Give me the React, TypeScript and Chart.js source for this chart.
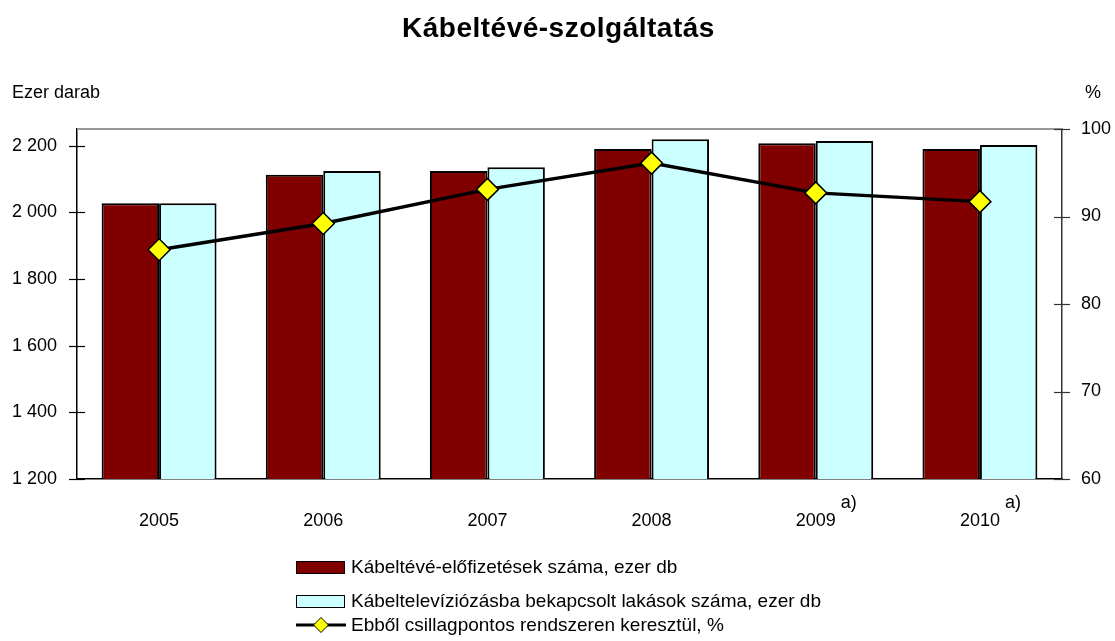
import React, { useEffect, useRef } from "react";
import { Chart, registerables } from "chart.js";

Chart.register(...registerables);

const categories = ["2005", "2006", "2007", "2008", "2009", "2010"];
const footnotes = ["", "", "", "", "a)", "a)"];
const subscriptions = [2027, 2113, 2124, 2190, 2207, 2190];
const connectedHomes = [2027, 2124, 2135, 2219, 2214, 2202];
const starPercent = [86.2, 89.2, 93.1, 96.1, 92.7, 91.7];
const leftTicks = [1200, 1400, 1600, 1800, 2000, 2200];
const rightTicks = [60, 70, 80, 90, 100];

const seriesNames = [
  "Kábeltévé-előfizetések száma, ezer db",
  "Kábeltelevíziózásba bekapcsolt lakások száma, ezer db",
  "Ebből csillagpontos rendszeren keresztül, %",
];

const FONT = "'Liberation Sans', Arial, sans-serif";

const fmt = (v: number) => {
  const s = String(Math.round(v));
  return s.replace(/\B(?=(\d{3})+(?!\d))/g, " ");
};

const decorPlugin = {
  id: "decor",
  afterDraw(chart: any) {
    const { ctx, chartArea, scales } = chart;
    ctx.save();
    // top border
    ctx.strokeStyle = "#999999";
    ctx.lineWidth = 2;
    ctx.beginPath();
    ctx.moveTo(chartArea.left, chartArea.top);
    ctx.lineTo(chartArea.right, chartArea.top);
    ctx.stroke();
    // crossing tick marks
    ctx.lineWidth = 1.2;
    ctx.strokeStyle = "#000000";
    leftTicks.forEach((v) => {
      const y = Math.round(scales.y.getPixelForValue(v)) + 0.5;
      ctx.beginPath();
      ctx.moveTo(chartArea.left - 8, y);
      ctx.lineTo(chartArea.left + 8, y);
      ctx.stroke();
    });
    ctx.strokeStyle = "#333333";
    rightTicks.forEach((v) => {
      const y = Math.round(scales.y1.getPixelForValue(v)) + 0.5;
      ctx.beginPath();
      ctx.moveTo(chartArea.right - 8, y);
      ctx.lineTo(chartArea.right + 8, y);
      ctx.stroke();
    });
    // footnote marks
    ctx.fillStyle = "#000000";
    ctx.font = `18px ${FONT}`;
    ctx.textAlign = "left";
    ctx.textBaseline = "middle";
    footnotes.forEach((f, i) => {
      if (!f) return;
      const x = scales.x.getPixelForValue(i);
      ctx.fillText(f, x + 25, 503);
    });
    ctx.restore();
  },
};

export default function App() {
  const ref = useRef<HTMLCanvasElement | null>(null);

  useEffect(() => {
    if (!ref.current) return;
    Chart.defaults.font.family = FONT;
    Chart.defaults.font.size = 18;
    Chart.defaults.color = "#000000";
    const chart = new Chart(ref.current, {
      type: "bar",
      data: {
        labels: categories,
        datasets: [
          {
            type: "line",
            label: seriesNames[2],
            data: starPercent,
            yAxisID: "y1",
            borderColor: "#000000",
            borderWidth: 3.5,
            pointStyle: "rectRot",
            pointRadius: 11,
            pointBackgroundColor: "#FFFF00",
            pointBorderColor: "#000000",
            pointBorderWidth: 1.5,
            tension: 0,
            order: 0,
          } as any,
          {
            type: "bar",
            label: seriesNames[0],
            data: subscriptions,
            yAxisID: "y",
            backgroundColor: "#800000",
            borderColor: "#000000",
            borderWidth: 2,
            categoryPercentage: 0.7,
            barPercentage: 1.0,
            order: 1,
          },
          {
            type: "bar",
            label: seriesNames[1],
            data: connectedHomes,
            yAxisID: "y",
            backgroundColor: "#CCFFFF",
            borderColor: "#000000",
            borderWidth: 2,
            categoryPercentage: 0.7,
            barPercentage: 1.0,
            order: 2,
          },
        ],
      },
      options: {
        animation: false,
        responsive: false,
        maintainAspectRatio: false,
        layout: { padding: { top: 129, bottom: 102, left: 0, right: 0 } },
        plugins: {
          legend: { display: false },
          title: { display: false },
          tooltip: { enabled: false },
        },
        scales: {
          x: {
            grid: { display: false, drawTicks: false },
            border: { display: true, color: "#000000", width: 1.5 },
            ticks: { padding: 31, font: { size: 18 }, color: "#000000" },
            afterFit: (s: any) => {
              s.height = 60;
            },
          },
          y: {
            position: "left",
            min: 1200,
            max: 2250,
            grid: { display: false, drawTicks: false },
            border: { display: true, color: "#000000", width: 1.5 },
            ticks: {
              padding: 20,
              font: { size: 18 },
              color: "#000000",
              callback: (v: any) => fmt(Number(v)),
            },
            afterBuildTicks: (s: any) => {
              s.ticks = leftTicks.map((v) => ({ value: v }));
            },
            afterFit: (s: any) => {
              s.width = 77;
            },
          },
          y1: {
            position: "right",
            min: 60,
            max: 100,
            grid: { display: false, drawTicks: false },
            border: { display: true, color: "#333333", width: 1.5 },
            ticks: { padding: 19, font: { size: 18 }, color: "#000000" },
            afterBuildTicks: (s: any) => {
              s.ticks = rightTicks.map((v) => ({ value: v }));
            },
            afterFit: (s: any) => {
              s.width = 53;
            },
          },
        },
      },
      plugins: [decorPlugin],
    });
    return () => chart.destroy();
  }, []);

  const legendText: React.CSSProperties = {
    position: "absolute",
    left: 351,
    fontFamily: FONT,
    fontSize: 19,
    color: "#000",
    lineHeight: "20px",
    whiteSpace: "nowrap",
  };

  return (
    <div
      style={{
        position: "absolute",
        left: 0,
        top: 0,
        width: 1115,
        height: 641,
        background: "#ffffff",
        overflow: "hidden",
      }}
    >
      <canvas ref={ref} width={1115} height={641} style={{ position: "absolute", left: 0, top: 0 }} />
      <div
        style={{
          position: "absolute",
          left: 402,
          top: 10,
          fontFamily: FONT,
          fontWeight: "bold",
          fontSize: 28,
          letterSpacing: "0.5px",
          lineHeight: "36px",
          color: "#000",
          whiteSpace: "nowrap",
        }}
      >
        Kábeltévé-szolgáltatás
      </div>
      <div style={{ position: "absolute", left: 12, top: 80, fontFamily: FONT, fontSize: 18, lineHeight: "24px" }}>
        Ezer darab
      </div>
      <div style={{ position: "absolute", left: 1085, top: 80, fontFamily: FONT, fontSize: 18, lineHeight: "24px" }}>
        %
      </div>
      <div
        style={{
          position: "absolute",
          left: 296,
          top: 561,
          width: 47,
          height: 11,
          background: "#800000",
          border: "1.5px solid #000",
        }}
      />
      <div style={{ ...legendText, top: 557 }}>{seriesNames[0]}</div>
      <div
        style={{
          position: "absolute",
          left: 296,
          top: 595,
          width: 47,
          height: 11,
          background: "#CCFFFF",
          border: "1.5px solid #000",
        }}
      />
      <div style={{ ...legendText, top: 591 }}>{seriesNames[1]}</div>
      <svg style={{ position: "absolute", left: 296, top: 615 }} width={52} height={20}>
        <line x1={0} y1={10} x2={50} y2={10} stroke="#000" strokeWidth={3} />
        <polygon points="25,2.5 32.5,10 25,17.5 17.5,10" fill="#FFFF00" stroke="#000" strokeWidth={1} />
      </svg>
      <div style={{ ...legendText, top: 615 }}>{seriesNames[2]}</div>
    </div>
  );
}
